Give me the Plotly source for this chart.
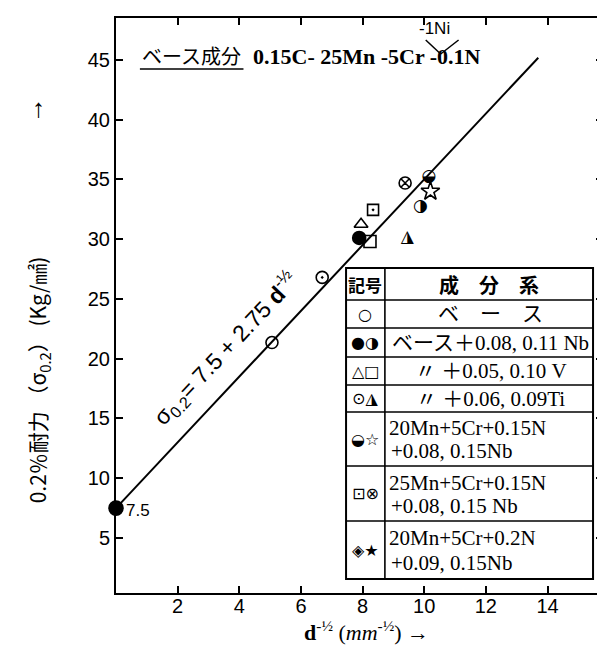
import plotly.graph_objects as go

# ---------------- data ----------------
intercept = 7.5
slope = 2.75
line_x = [0.0, 13.7]
line_y = [intercept + slope * v for v in line_x]

x_ticks = [2, 4, 6, 8, 10, 12, 14]
y_ticks = [5, 10, 15, 20, 25, 30, 35, 40, 45]

base_x = [5.06]; base_y = [21.35]            # ○ base
nb_fill_x = [7.89]; nb_fill_y = [30.1]       # ● base+0.08Nb
nb_half_x = [9.88]; nb_half_y = [32.7]       # ◑ base+0.11Nb
v_tri_x = [7.95]; v_tri_y = [31.25]          # △ +0.05V
v_sq_x = [8.24]; v_sq_y = [29.8]             # □ +0.10V
ti_dot_x = [6.69]; ti_dot_y = [26.8]         # ⊙ +0.06Ti
ti_tri_x = [9.45]; ti_tri_y = [30.1]         # ▲ +0.09Ti
mn20_half_x = [10.15]; mn20_half_y = [35.25]  # ◒ 20Mn
mn20_star_x = [10.2]; mn20_star_y = [34.0]    # ☆ 20Mn
mn25_sq_x = [8.34]; mn25_sq_y = [32.45]       # ⊡ 25Mn
mn25_x_x = [9.38]; mn25_x_y = [34.7]          # ⊗ 25Mn

table_symbols = ["○", "●◑", "△□", "⊙◮", "◒☆", "⊡⊗", "◈★"]
table_texts = [
    ["ベ　ー　ス"],
    ["ベース＋0.08, 0.11 Nb"],
    ["〃 ＋0.05, 0.10 V"],
    ["〃 ＋0.06, 0.09Ti"],
    ["20Mn+5Cr+0.15N", "+0.08, 0.15Nb"],
    ["25Mn+5Cr+0.15N", "+0.08, 0.15 Nb"],
    ["20Mn+5Cr+0.2N", "+0.09, 0.15Nb"],
]

# ---------------- layout helpers ----------------
W, H = 605, 648
L, R, T, B = 108, 597, 10, 585
def px(x): return (x - L) / (R - L)
def py(y): return (B - y) / (B - T)

SANS = "Liberation Sans, Arial, sans-serif"
SERIF = "Liberation Serif, Noto Sans CJK JP, serif"
CJK = "Noto Sans CJK JP, sans-serif"
SYM = "DejaVu Sans, sans-serif"

fig = go.Figure()

fig.add_trace(go.Scatter(x=line_x, y=line_y, mode="lines",
                         line=dict(color="black", width=2), cliponaxis=False))

def mk(x, y, symbol, size=12, lw=1.6):
    fig.add_trace(go.Scatter(x=x, y=y, mode="markers", cliponaxis=False,
                             marker=dict(symbol=symbol, size=size, color="black",
                                         line=dict(color="black", width=lw))))

def tx(x, y, glyph, size=17):
    fig.add_trace(go.Scatter(x=x, y=y, mode="text", text=[glyph] * len(x),
                             textposition="middle center", cliponaxis=False,
                             textfont=dict(family=SYM, size=size, color="black")))

# intercept point
mk([0.0], [intercept], "circle", size=14)
mk(base_x, base_y, "circle-open", size=12)
mk(nb_fill_x, nb_fill_y, "circle", size=13)
tx(nb_half_x, nb_half_y, "◑")
mk(v_tri_x, v_tri_y, "triangle-up-open", size=12)
mk(v_sq_x, v_sq_y, "square-open", size=12)
mk(ti_dot_x, ti_dot_y, "circle-open-dot", size=12)
tx(ti_tri_x, ti_tri_y, "◮")
tx(mn20_half_x, mn20_half_y, "◒")
mk(mn20_star_x, mn20_star_y, "star-open", size=14)
mk(mn25_sq_x, mn25_sq_y, "square-open-dot", size=11)
mk(mn25_x_x, mn25_x_y, "circle-x-open", size=12)

shapes = []
ann = []

def seg(x0, y0, x1, y1, w=1.6):
    shapes.append(dict(type="line", xref="paper", yref="paper",
                       x0=px(x0), x1=px(x1), y0=py(y0), y1=py(y1),
                       line=dict(color="black", width=w)))

# table
tl, tr, tt, tb, tdiv = 339, 587, 260, 571, 378
row_lines = [260, 292, 320, 349, 377, 404, 458, 513, 571]
shapes.append(dict(type="rect", xref="paper", yref="paper",
                   x0=px(tl), x1=px(tr), y0=py(tb), y1=py(tt),
                   line=dict(color="black", width=2), fillcolor="white", layer="below"))
seg(tdiv, tt, tdiv, tb)
for ry in row_lines[1:-1]:
    seg(tl, ry, tr, ry)

def a(x, y, text, size, family, xanchor="center", angle=0, yanchor="middle"):
    ann.append(dict(x=px(x), y=py(y), xref="paper", yref="paper", text=text,
                    showarrow=False, xanchor=xanchor, yanchor=yanchor,
                    textangle=angle, font=dict(size=size, family=family, color="black")))

a((tl + tdiv) / 2, (row_lines[0] + row_lines[1]) / 2, "<b>記号</b>", 17, CJK)
a((tdiv + tr) / 2, (row_lines[0] + row_lines[1]) / 2, "<b>成　分　系</b>", 20, CJK)
for i, (sym, lines) in enumerate(zip(table_symbols, table_texts)):
    y0, y1 = row_lines[i + 1], row_lines[i + 2]
    a((tl + tdiv) / 2, (y0 + y1) / 2, sym, 16, SYM)
    if len(lines) == 1:
        a((tdiv + tr) / 2 + 2, (y0 + y1) / 2, lines[0], 21, SERIF)
    else:
        h = (y1 - y0)
        a(tdiv + 2, y0 + h * 0.30, lines[0], 21, SERIF, xanchor="left")
        a(tdiv + 4, y0 + h * 0.73, lines[1], 21, SERIF, xanchor="left")

# top composition text
a(132, 47, "ベース成分", 20, CJK, xanchor="left")
seg(132, 61, 236, 61, 1.5)
a(244, 48, "<b>0.15C- 25Mn -5Cr -0.1N</b>", 22, SERIF, xanchor="left")
a(410, 21, "-1Ni", 17, SANS, xanchor="left")
seg(419, 32, 434, 46, 1.5)
seg(434, 46, 452, 32, 1.5)

# equation along the line
a(218, 340, "σ<sub>0.2</sub>= 7.5 + 2.75 <b>d</b><sup>-½</sup>", 23, SANS, angle=-46.7)

# intercept label
a(116, 502, "7.5", 17, SANS, xanchor="left")

# axis titles
a(30, 372, "0.2％耐力 （σ<sub>0.2</sub>） (Kg/㎟)", 21, CJK, angle=-90)
a(30, 100, "↑", 26, SANS)
a(360, 623, "<b>d</b><sup>-½</sup> (<i>mm</i><sup>-½</sup>) →", 22, SERIF)

axis_common = dict(showline=True, linecolor="black", linewidth=2, mirror="ticks",
                   ticks="inside", ticklen=7, tickwidth=1.6, tickcolor="black",
                   showgrid=False, zeroline=False,
                   tickfont=dict(family=SANS, size=20, color="black"))

fig.update_layout(
    width=W, height=H, showlegend=False,
    paper_bgcolor="white", plot_bgcolor="white",
    margin=dict(l=L, r=W - R, t=T, b=H - B),
    xaxis=dict(range=[0, 15.8], tickvals=x_ticks, ticklabelstandoff=-6, **axis_common),
    yaxis=dict(range=[0.4, 48.5], tickvals=y_ticks, **axis_common),
    shapes=shapes, annotations=ann,
)

fig.write_html("out.html")
